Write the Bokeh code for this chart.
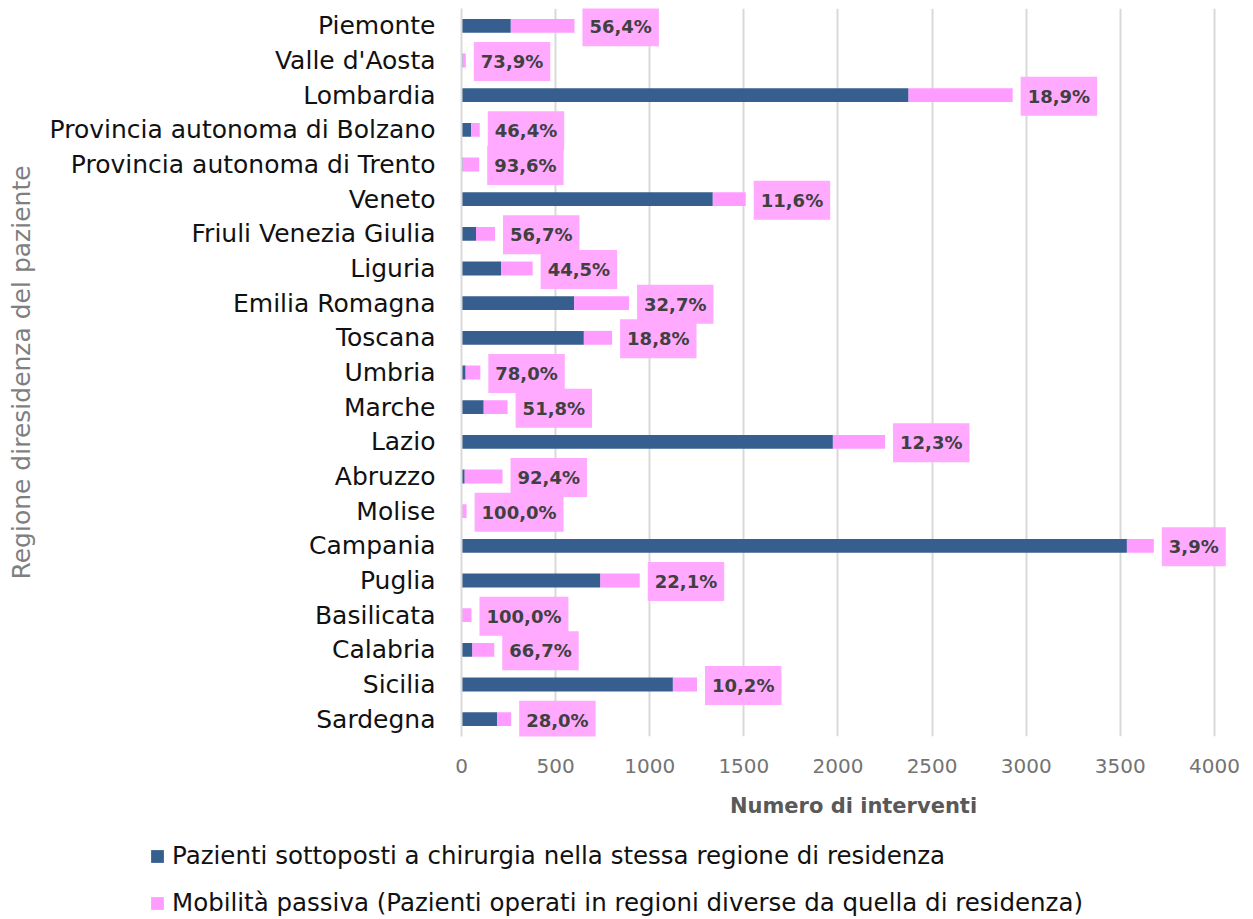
from bokeh.plotting import figure
from bokeh.models import FactorRange, Range1d, FixedTicker, Legend, LegendItem, ColumnDataSource
from bokeh.core.properties import value
from bokeh.embed import file_html
from bokeh.resources import INLINE

regions = ["Piemonte", "Valle d'Aosta", "Lombardia", "Provincia autonoma di Bolzano",
           "Provincia autonoma di Trento", "Veneto", "Friuli Venezia Giulia", "Liguria",
           "Emilia Romagna", "Toscana", "Umbria", "Marche", "Lazio", "Abruzzo", "Molise",
           "Campania", "Puglia", "Basilicata", "Calabria", "Sicilia", "Sardegna"]
local = [262, 6, 2375, 52, 6, 1335, 77, 210, 599, 650, 22, 118, 1973, 17, 0,
         3535, 738, 0, 58, 1123, 190]
passive = [338, 17, 553, 45, 88, 175, 101, 168, 291, 150, 78, 127, 277, 201, 27,
           143, 209, 53, 116, 128, 74]
pct = [56.4, 73.9, 18.9, 46.4, 93.6, 11.6, 56.7, 44.5, 32.7, 18.8, 78.0, 51.8, 12.3,
       92.4, 100.0, 3.9, 22.1, 100.0, 66.7, 10.2, 28.0]
x_ticks = [0, 500, 1000, 1500, 2000, 2500, 3000, 3500, 4000]
legend_labels = ["Pazienti sottoposti a chirurgia nella stessa regione di residenza",
                 "Mobilità passiva (Pazienti operati in regioni diverse da quella di residenza)"]
x_title = "Numero di interventi"
y_title = "Regione diresidenza del paziente"

FONT = "DejaVu Sans"
BLUE = "#365f8f"
PINK = "#ff9cff"
BOX = "#ffaaff"
GRID = "#d9d9d9"

src = ColumnDataSource(dict(
    region=regions, local=local, passive=passive,
    total=[a + b for a, b in zip(local, passive)],
    label=[("%.1f" % v).replace(".", ",") + "%" for v in pct],
))

W = 1245
p = figure(width=W, height=820,
           y_range=FactorRange(factors=regions[::-1], range_padding=0),
           x_range=Range1d(0, 4165),
           output_backend="svg", toolbar_location=None,
           min_border_left=461, min_border_right=0, min_border_top=8, min_border_bottom=82)
p.outline_line_color = None

rs = p.hbar_stack(["local", "passive"], y="region", height=0.4, source=src,
                  fill_color=[BLUE, PINK], line_color=None)

p.text(x="total", y="region", text="label", source=src, x_offset=8, y_offset=1,
       text_align="left", text_baseline="middle", text_font=value(FONT),
       text_font_style="bold", text_font_size="18px", text_color="#404040",
       background_fill_color=BOX, padding=(7, 9))

# axes
p.xaxis.ticker = FixedTicker(ticks=x_ticks)
p.xgrid.ticker = FixedTicker(ticks=x_ticks)
p.xgrid.grid_line_color = GRID
p.xgrid.grid_line_width = 2
p.ygrid.grid_line_color = None
p.xaxis.axis_line_color = None
p.xaxis.major_tick_line_color = None
p.xaxis.minor_tick_line_color = None
p.xaxis.major_tick_out = 0
p.xaxis.major_label_text_font = FONT
p.xaxis.major_label_text_font_size = "20px"
p.xaxis.major_label_text_color = "#737373"
p.xaxis.major_label_standoff = 22
p.xaxis.axis_label = x_title
p.xaxis.axis_label_text_font = FONT
p.xaxis.axis_label_text_font_size = "21px"
p.xaxis.axis_label_text_font_style = "bold"
p.xaxis.axis_label_text_color = "#595959"
p.xaxis.axis_label_standoff = 18

p.yaxis.axis_line_color = GRID
p.yaxis.axis_line_width = 2
p.yaxis.major_tick_line_color = None
p.yaxis.minor_tick_line_color = None
p.yaxis.major_tick_out = 0
p.yaxis.major_label_text_font = FONT
p.yaxis.major_label_text_font_size = "25px"
p.yaxis.major_label_text_color = "#111111"
p.yaxis.major_label_standoff = 26
p.yaxis.axis_label = y_title
p.yaxis.axis_label_text_font = FONT
p.yaxis.axis_label_text_font_size = "25px"
p.yaxis.axis_label_text_font_style = "normal"
p.yaxis.axis_label_text_color = "#7f7f7f"
p.yaxis.axis_label_standoff = 11

# legend strip below the chart (separate root, so it is not frame-aligned)
leg = figure(width=W, height=99, x_range=Range1d(0, 1), y_range=Range1d(0, 1),
             x_axis_type=None, y_axis_type=None, output_backend="svg",
             toolbar_location=None, min_border=0)
leg.outline_line_color = None
leg.grid.grid_line_color = None
# legend keys only (placed outside the visible range)
lr0 = leg.hbar(y=[-5], right=[1], height=0.4, fill_color=BLUE, line_color=None)
lr1 = leg.hbar(y=[-5], right=[1], height=0.4, fill_color=PINK, line_color=None)
legend = Legend(items=[LegendItem(label=legend_labels[0], renderers=[lr0]),
                       LegendItem(label=legend_labels[1], renderers=[lr1])],
                location=(149, 2), orientation="vertical",
                padding=0, margin=0, spacing=18, label_height=26,
                glyph_width=16, glyph_height=16, label_standoff=7,
                label_text_font=FONT, label_text_font_size="24.5px",
                label_text_color="#111111",
                border_line_color=None, background_fill_alpha=0)
leg.add_layout(legend)

open("out.html", "w").write(file_html([p, leg], INLINE))
